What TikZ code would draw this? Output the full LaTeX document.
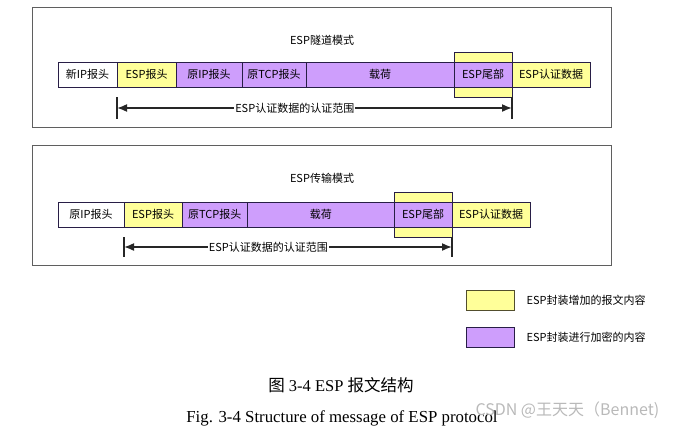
\documentclass[tikz,border=0pt]{standalone}
\usepackage{fontspec}
\setmainfont{Liberation Serif}
\newfontfamily\cjk{Noto Sans CJK SC}
\usetikzlibrary{arrows.meta,positioning}
\definecolor{espyellow}{RGB}{255,255,153}
\definecolor{esppurple}{RGB}{206,158,252}
\definecolor{cellline}{RGB}{40,30,70}
\definecolor{frameline}{RGB}{95,95,95}
\definecolor{markgray}{RGB}{185,185,185}

\begin{document}
\begin{tikzpicture}[x=1pt,y=-1pt,
  cell/.style={draw=cellline,line width=0.8pt,minimum height=25pt,inner sep=0pt,outer sep=0pt,
    font=\cjk\fontsize{11}{12}\selectfont},
  tallbox/.style={cell,fill=espyellow,minimum height=45pt},
  modeframe/.style={draw=frameline,line width=1pt,minimum width=579pt,minimum height=120pt,inner sep=0pt},
  modetitle/.style={font=\cjk\fontsize{11}{12}\selectfont},
  tickbar/.style={line width=1.8pt,draw=black!85},
  span/.style={line width=1.6pt,draw=black!85,{Latex[length=10pt,width=8pt]}-{Latex[length=10pt,width=8pt]}},
  spanlabel/.style={fill=white,inner sep=1pt,font=\cjk\fontsize{11}{12}\selectfont},
  legendbox/.style={line width=0.8pt,minimum width=48pt,minimum height=20pt,inner sep=0pt},
  legendtext/.style={anchor=west,font=\cjk\fontsize{11}{12}\selectfont}
]
  \useasboundingbox (0,0) rectangle (684,431);
  % ESP tunnel mode
  \node[modeframe] (f1) at (321.5,67) {};
  \node[modetitle] (h1) at (322,40) {ESP隧道模式};
  \node[cell,fill=white,anchor=west,minimum width=59pt] (n1) at (58,74.5) {新IP报头};
  \node[cell,fill=espyellow,minimum width=59pt,right=0pt of n1] (e1) {ESP报头};
  \node[cell,fill=esppurple,minimum width=66pt,right=0pt of e1] (o1) {原IP报头};
  \node[cell,fill=esppurple,minimum width=64pt,right=0pt of o1] (t1) {原TCP报头};
  \node[cell,fill=esppurple,minimum width=148pt,right=0pt of t1] (p1) {载荷};
  \node[tallbox,minimum width=58pt,right=0pt of p1] (tb1) {};
  \node[cell,fill=esppurple,minimum width=58pt] (tr1) at (tb1.center) {ESP尾部};
  \node[cell,fill=espyellow,minimum width=78pt,right=0pt of tr1] (a1) {ESP认证数据};
  \coordinate[below=33.5pt of e1.west] (sl1);
  \coordinate[below=33.5pt of tr1.east] (sr1);
  \draw[tickbar] ([yshift=11pt]sl1) -- ([yshift=-11pt]sl1);
  \draw[tickbar] ([yshift=11pt]sr1) -- ([yshift=-11pt]sr1);
  \draw[span] (sl1) -- (sr1) node[spanlabel,pos=0.45] {ESP认证数据的认证范围};

  % ESP transport mode
  \node[modeframe] (f2) at (321.5,205) {};
  \node[modetitle] (h2) at (322,178) {ESP传输模式};
  \node[cell,fill=white,anchor=west,minimum width=66pt] (n2) at (58,214.5) {原IP报头};
  \node[cell,fill=espyellow,minimum width=58pt,right=0pt of n2] (e2) {ESP报头};
  \node[cell,fill=esppurple,minimum width=65.5pt,right=0pt of e2] (t2) {原TCP报头};
  \node[cell,fill=esppurple,minimum width=146.5pt,right=0pt of t2] (p2) {载荷};
  \node[tallbox,minimum width=58pt,right=0pt of p2] (tb2) {};
  \node[cell,fill=esppurple,minimum width=58pt] (tr2) at (tb2.center) {ESP尾部};
  \node[cell,fill=espyellow,minimum width=78pt,right=0pt of tr2] (a2) {ESP认证数据};
  \coordinate[below=32.5pt of e2.west] (sl2);
  \coordinate[below=32.5pt of tr2.east] (sr2);
  \draw[tickbar] ([yshift=10pt]sl2) -- ([yshift=-10pt]sl2);
  \draw[tickbar] ([yshift=10pt]sr2) -- ([yshift=-10pt]sr2);
  \draw[span] (sl2) -- (sr2) node[spanlabel,pos=0.44] {ESP认证数据的认证范围};

  % legend
  \node[legendbox,draw=black!55!olive,fill=espyellow] (ly) at (490,300) {};
  \node[legendtext] (lyt) at (523,300) {ESP封装增加的报文内容};
  \node[legendbox,draw=cellline,fill=esppurple] (lp) at (490,337) {};
  \node[legendtext] (lpt) at (523,337) {ESP封装进行加密的内容};

  % caption
  \node[font=\fontsize{16.5}{18}\selectfont] (cap1) at (341,385) {{\cjk 图} 3-4 ESP {\cjk 报文结构}};
  \node[font=\fontsize{16.8}{18}\selectfont] (cap2) at (342,418) {Fig. 3-4 Structure of message of ESP protocol};
  \node[anchor=west,text=markgray,font=\cjk\fontsize{16}{17}\selectfont] (wm) at (472,410) {CSDN @王天天（Bennet)};
\end{tikzpicture}
\end{document}
